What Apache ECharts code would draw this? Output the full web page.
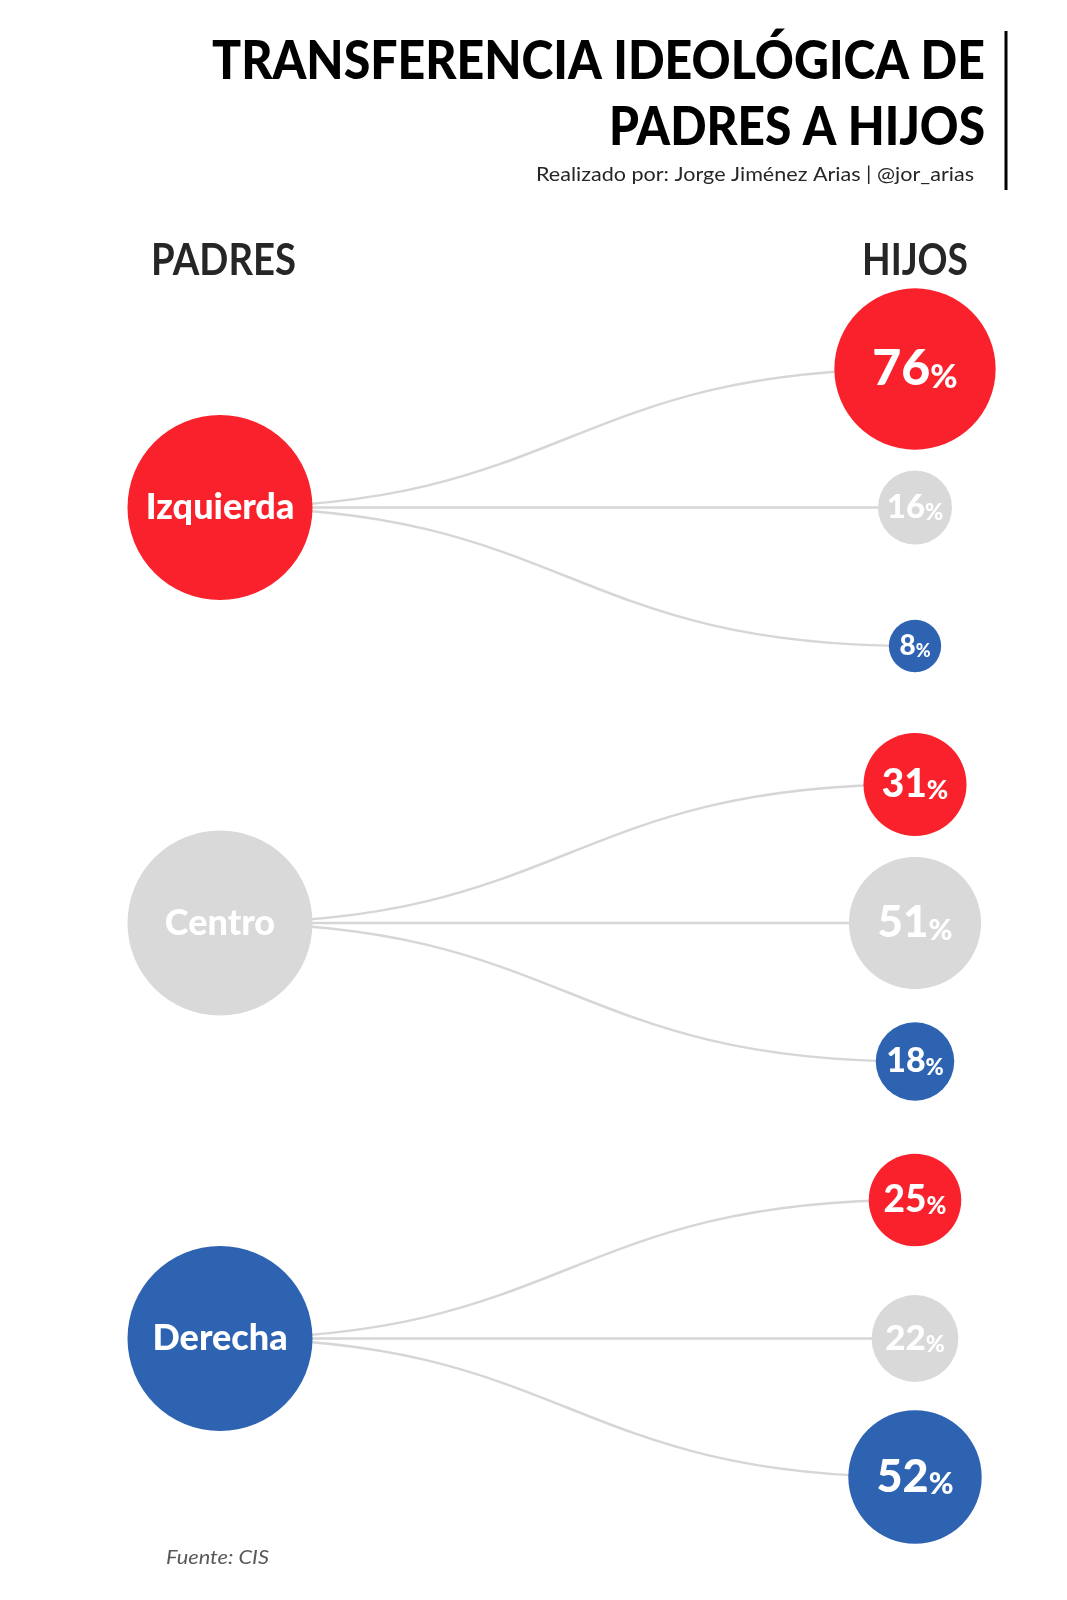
<!DOCTYPE html>
<html><head><meta charset="utf-8">
<script src="https://cdn.jsdelivr.net/npm/echarts@6/dist/echarts.min.js"></script>
<style>html,body{margin:0;padding:0;background:#fff}#c{width:1067px;height:1600px}</style>
</head><body><div id="c"></div>
<script>
// ---- data ----
const ideologies = ['Izquierda', 'Centro', 'Derecha'];
const parentShare = [100, 100, 100];
const hijosDeIzquierda = [76, 16, 8];
const hijosDeCentro = [31, 51, 18];
const hijosDeDerecha = [25, 22, 52];
const titleLines = ['TRANSFERENCIA IDEOLÓGICA DE', 'PADRES A HIJOS'];
const subtitle = 'Realizado por: Jorge Jiménez Arias | @jor_arias';
const columnLabels = ['PADRES', 'HIJOS'];
const sourceNote = 'Fuente: CIS';

// ---- styles ----
const colors = ['#F9212B', '#D9D9D9', '#2E63B2'];
const FONT = 'Lato';
const HEAVY = 900;
const childShares = [hijosDeIzquierda, hijosDeCentro, hijosDeDerecha];
const sizeOf = v => 18.5 * Math.sqrt(v);

const ctx = document.createElement('canvas').getContext('2d');
function fit(text, font, target) { ctx.font = font; return target / ctx.measureText(text).width; }

const parentData = ideologies.map((name, p) => ({
  value: [0, p * 3 + 1, parentShare[p]], name,
  itemStyle: { color: colors[p], opacity: 1 }
}));
const childData = [], linkData = [];
childShares.forEach((arr, p) => arr.forEach((v, c) => {
  const fs = Math.round(18 + 0.4 * sizeOf(v) / 2);
  const ps = Math.round(fs * 0.66);
  childData.push({
    value: [1, p * 3 + c, v], name: ideologies[c],
    itemStyle: { color: colors[c], opacity: 1 },
    label: { rich: { n: { fontSize: fs, lineHeight: fs }, p: { fontSize: ps, lineHeight: fs, verticalAlign: 'bottom' } } }
  });
  linkData.push([0, p * 3 + 1, 1, p * 3 + c]);
}));

const tFont1 = HEAVY + ' 54px ' + FONT;
const sFont = '20px ' + FONT;
const cFont = 'bold 44px ' + FONT;
const fFont = 'italic 20px ' + FONT;

const chart = echarts.init(document.getElementById('c'));
chart.setOption({
  backgroundColor: '#fff',
  animation: false,
  grid: { left: 220, right: 152, top: 369, bottom: 123 },
  xAxis: { type: 'value', min: 0, max: 1, show: false },
  yAxis: { type: 'value', min: 0, max: 8, inverse: true, show: false },
  series: [
    {
      type: 'custom', data: linkData, encode: { x: [0, 2], y: [1, 3] }, z: 1, silent: true,
      renderItem(params, api) {
        const a = api.coord([api.value(0), api.value(1)]);
        const b = api.coord([api.value(2), api.value(3)]);
        const mx = (a[0] + b[0]) / 2;
        return { type: 'bezierCurve',
          shape: { x1: a[0], y1: a[1], x2: b[0], y2: b[1], cpx1: mx, cpy1: a[1], cpx2: mx, cpy2: b[1] },
          style: { stroke: '#D6D6D6', lineWidth: 2.5, fill: null } };
      }
    },
    {
      type: 'scatter', data: parentData, z: 3, silent: true,
      symbolSize: v => sizeOf(v[2]),
      label: { show: true, position: 'inside', formatter: p => p.name, color: '#fff',
        fontFamily: FONT, fontWeight: HEAVY, fontSize: 36 }
    },
    {
      type: 'scatter', data: childData, z: 3, silent: true,
      symbolSize: v => sizeOf(v[2]),
      label: { show: true, position: 'inside', color: '#fff', fontFamily: FONT, fontWeight: HEAVY,
        formatter: p => '{n|' + p.value[2] + '}{p|%}',
        rich: { n: { color: '#fff', fontFamily: FONT, fontWeight: HEAVY }, p: { color: '#fff', fontFamily: FONT, fontWeight: HEAVY } } }
    }
  ],
  graphic: [
    { type: 'text', x: 985, y: 62, scaleX: fit(titleLines[0], tFont1, 773),
      style: { text: titleLines[0], font: tFont1, fill: '#000', align: 'right', verticalAlign: 'middle' } },
    { type: 'text', x: 985, y: 128, scaleX: fit(titleLines[1], tFont1, 376),
      style: { text: titleLines[1], font: tFont1, fill: '#000', align: 'right', verticalAlign: 'middle' } },
    { type: 'text', x: 974, y: 175, scaleX: fit(subtitle, sFont, 438),
      style: { text: subtitle, font: sFont, fill: '#262626', align: 'right', verticalAlign: 'middle' } },
    { type: 'line', shape: { x1: 1006, y1: 31, x2: 1006, y2: 190 }, style: { stroke: '#000', lineWidth: 3 } },
    { type: 'text', x: 223.5, y: 261, scaleX: fit(columnLabels[0], cFont, 145),
      style: { text: columnLabels[0], font: cFont, fill: '#262626', align: 'center', verticalAlign: 'middle' } },
    { type: 'text', x: 915, y: 261, scaleX: fit(columnLabels[1], cFont, 106),
      style: { text: columnLabels[1], font: cFont, fill: '#262626', align: 'center', verticalAlign: 'middle' } },
    { type: 'text', x: 166, y: 1558, scaleX: fit(sourceNote, fFont, 103),
      style: { text: sourceNote, font: fFont, fill: '#595959', align: 'left', verticalAlign: 'middle' } }
  ]
});
</script>
</body></html>
